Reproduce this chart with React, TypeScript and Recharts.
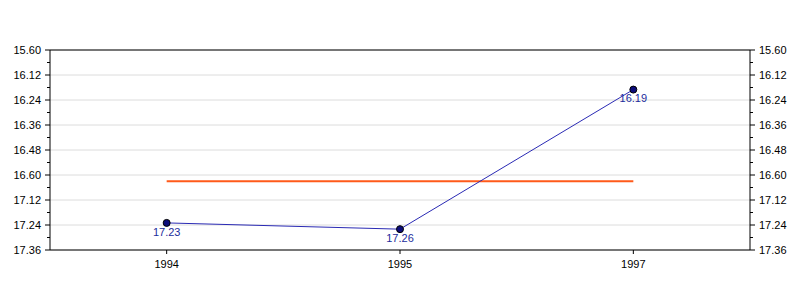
import { LineChart, Line, XAxis, YAxis, CartesianGrid, LabelList, ReferenceLine } from "recharts";

// race times in seconds (shown as min.sec)
const years = ["1994", "1995", "1997"];
const times = [1043, 1046, 979];
const timeLabels = ["17.23", "17.26", "16.19"];
const average = [1023, 1023, 1023];

const yMajorTicks = [960, 972, 984, 996, 1008, 1020, 1032, 1044, 1056];
const yMajorLabels = ["15.60", "16.12", "16.24", "16.36", "16.48", "16.60", "17.12", "17.24", "17.36"];
const yMinorTicks = [966, 978, 990, 1002, 1014, 1026, 1038, 1050];

const data = years.map((year, i) => ({
  year,
  time: times[i],
  label: timeLabels[i],
  avg: average[i],
}));

const font = "Arial, 'Liberation Sans', sans-serif";
const allTicks = [...yMajorTicks, ...yMinorTicks].sort((a, b) => a - b);

function YTick(props: any) {
  const { x, y, payload, side } = props;
  const idx = yMajorTicks.indexOf(payload.value);
  const major = idx >= 0;
  const len = major ? 5 : 3;
  const dir = side === "left" ? -1 : 1;
  return (
    <g>
      <line x1={x} y1={y} x2={x + dir * len} y2={y} stroke="#000" strokeWidth={1} />
      {major && (
        <text
          x={x + dir * 9}
          y={y}
          dy="0.355em"
          textAnchor={side === "left" ? "end" : "start"}
          fontSize={11}
          fontFamily={font}
          fill="#000"
        >
          {yMajorLabels[idx]}
        </text>
      )}
    </g>
  );
}

export default function App() {
  return (
    <div style={{ position: "absolute", left: 0, top: 0, width: 800, height: 300, background: "#fff" }}>
      <LineChart width={800} height={300} data={data} margin={{ top: 50, right: 0, left: 0, bottom: 0 }}>
        <CartesianGrid
          vertical={false}
          stroke="#dcdcdc"
          yAxisId="left"
          horizontalValues={yMajorTicks}
        />
        <XAxis
          dataKey="year"
          scale="band"
          height={50}
          tickSize={4}
          tickMargin={6}
          stroke="#000"
          tick={{ fontSize: 11, fontFamily: font, fill: "#000" }}
        />
        <YAxis
          yAxisId="left"
          width={50}
          reversed
          domain={[960, 1056]}
          ticks={allTicks}
          interval={0}
          tickSize={0}
          tickMargin={0}
          tickLine={false}
          stroke="#000"
          tick={<YTick side="left" />}
        />
        <YAxis
          yAxisId="right"
          orientation="right"
          width={50}
          reversed
          domain={[960, 1056]}
          ticks={allTicks}
          interval={0}
          tickSize={0}
          tickMargin={0}
          tickLine={false}
          stroke="#000"
          tick={<YTick side="right" />}
        />
        <ReferenceLine yAxisId="left" y={960} stroke="#000" strokeWidth={1} />
        <Line
          yAxisId="right"
          dataKey="avg"
          stroke="#ff5a1a"
          strokeWidth={2}
          dot={false}
          isAnimationActive={false}
        />
        <Line
          yAxisId="left"
          dataKey="time"
          stroke="#2a2ab4"
          strokeWidth={1}
          dot={{ r: 3.5, fill: "#0c0c7a", stroke: "#000", strokeWidth: 1 }}
          isAnimationActive={false}
        >
          <LabelList dataKey="label" position="bottom" offset={5} fontSize={11} fontFamily={font} fill="#1c2c9c" />
        </Line>
      </LineChart>
    </div>
  );
}
